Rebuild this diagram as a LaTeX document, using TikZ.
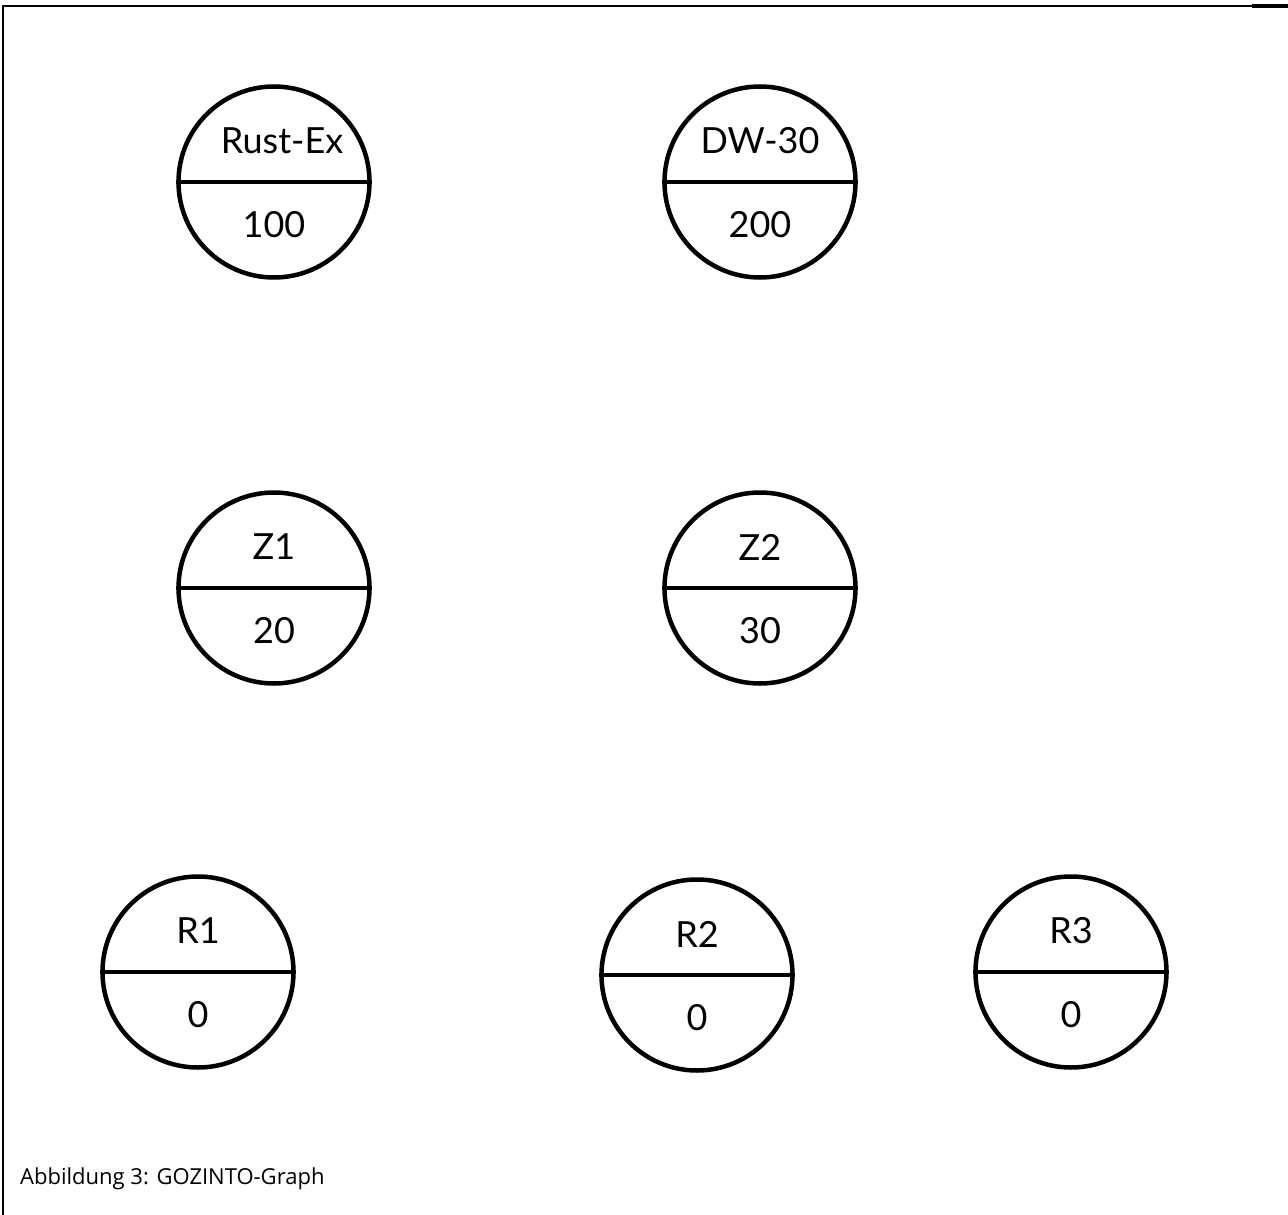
\documentclass[tikz,border=0pt]{standalone}
\usepackage{fontspec}
\setmainfont{Lato}
\newfontfamily\capfont{Open Sans}
\begin{document}
\begin{tikzpicture}[x=1pt,y=-1pt,
  gnode/.style={circle,draw,line width=4.5pt,minimum size=191pt,inner sep=0pt},
  lbl/.style={font=\fontsize{36}{40}\selectfont,inner sep=0pt}]
\useasboundingbox (0,0) rectangle (1288,1215);
\draw[line width=2.5pt] (3,1215) -- (3,6) -- (1288,6);
\draw[line width=4pt] (1252,6.5) -- (1288,6.5);
\foreach \n/\x/\y/\a/\b/\dx in {rust/274/182/Rust-Ex/100/8, dw/760/182/DW-30/200/0,
  zone/274/588/Z1/20/0, ztwo/760/588/Z2/30/0,
  rone/198/972/R1/0/0, rtwo/697/975/R2/0/0, rthree/1071/972/R3/0/0}{
  \node[gnode] (\n) at (\x,\y) {};
  \draw[line width=4.6pt] (\n.west) -- (\n.east);
  \node[lbl] (\n-top) at ([yshift=41pt,xshift=\dx pt]\n.center) {\a};
  \node[lbl] (\n-bot) at ([yshift=-43pt]\n.center) {\b};
}
\node[anchor=west,inner sep=0pt,font=\capfont\fontsize{22}{26}\selectfont] (cap) at (20,1179) {Abbildung 3: GOZINTO-Graph};
\end{tikzpicture}
\end{document}
